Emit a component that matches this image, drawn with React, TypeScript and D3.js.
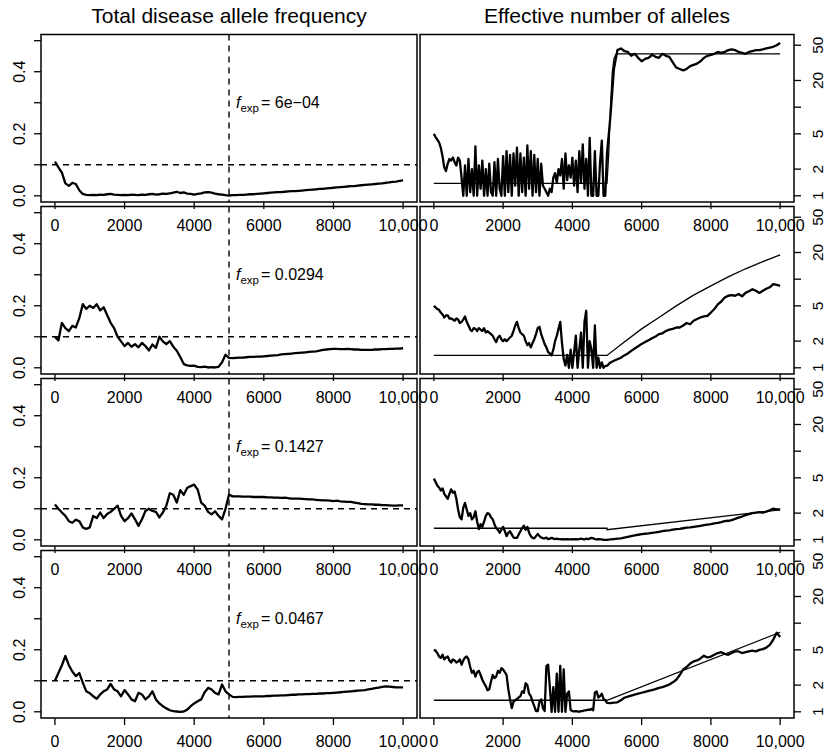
import React from "react";
import * as d3 from "d3";

// ---------- data ----------
const genL = d3.range(0, 10001, 100);
const genR = [...d3.range(0, 5001, 50), ...d3.range(5100, 10001, 100)];

const xTicks = [0, 2000, 4000, 6000, 8000, 10000];
const xTickLabels = ["0", "2000", "4000", "6000", "8000", "10,000"];
const yTicksL = [0, 0.1, 0.2, 0.3, 0.4, 0.5];
const yTickLabelsL = ["0.0", "", "0.2", "", "0.4", ""];
const yTicksR = [1, 2, 5, 10, 20, 50];
const yTickLabelsR = ["1", "2", "5", "", "20", "50"];

const titles = ["Total disease allele frequency", "Effective number of alleles"];
const fexpLabels = ["6e\u221204", "0.0294", "0.1427", "0.0467"];
const baselineFreq = 0.1;
const switchGen = 5000;

// total disease allele frequency, every 100 generations
const L1 = [
  0.110, 0.092, 0.075, 0.040, 0.032, 0.042, 0.038, 0.018, 0.006, 0.003,
  0.002, 0.003, 0.002, 0.004, 0.003, 0.005, 0.006, 0.004, 0.003, 0.002,
  0.003, 0.002, 0.004, 0.003, 0.002, 0.004, 0.003, 0.005, 0.006, 0.004,
  0.005, 0.007, 0.006, 0.008, 0.010, 0.013, 0.009, 0.011, 0.007, 0.006,
  0.004, 0.006, 0.008, 0.011, 0.012, 0.010, 0.007, 0.005, 0.004, 0.002,
  0.001, 0.002, 0.002, 0.003, 0.003, 0.004, 0.005, 0.005, 0.006, 0.007,
  0.008, 0.009, 0.010, 0.011, 0.012, 0.012, 0.013, 0.014, 0.015, 0.015,
  0.016, 0.017, 0.018, 0.019, 0.020, 0.021, 0.022, 0.022, 0.024, 0.025,
  0.026, 0.027, 0.028, 0.029, 0.030, 0.031, 0.031, 0.033, 0.034, 0.035,
  0.036, 0.037, 0.038, 0.039, 0.040, 0.042, 0.043, 0.045, 0.046, 0.048,
  0.050,
];
const L2 = [
  0.100, 0.088, 0.145, 0.128, 0.118, 0.135, 0.130, 0.160, 0.205, 0.190,
  0.200, 0.193, 0.205, 0.185, 0.195, 0.170, 0.145, 0.128, 0.100, 0.085,
  0.070, 0.080, 0.068, 0.076, 0.066, 0.080, 0.070, 0.056, 0.075, 0.064,
  0.100, 0.085, 0.076, 0.086, 0.068, 0.055, 0.035, 0.012, 0.008, 0.006,
  0.007, 0.003, 0.002, 0.004, 0.001, 0.002, 0.001, 0.003, 0.018, 0.042,
  0.032, 0.031, 0.032, 0.033, 0.033, 0.034, 0.035, 0.035, 0.036, 0.036,
  0.037, 0.038, 0.039, 0.040, 0.041, 0.043, 0.044, 0.045, 0.046, 0.047,
  0.048, 0.049, 0.050, 0.051, 0.052, 0.053, 0.055, 0.058, 0.059, 0.060,
  0.061, 0.061, 0.060, 0.060, 0.061, 0.060, 0.059, 0.059, 0.058, 0.058,
  0.058, 0.058, 0.059, 0.059, 0.060, 0.060, 0.061, 0.061, 0.062, 0.062,
  0.063,
];
const L3 = [
  0.114, 0.100, 0.088, 0.077, 0.060, 0.055, 0.065, 0.060, 0.040, 0.035,
  0.040, 0.077, 0.070, 0.088, 0.070, 0.083, 0.090, 0.100, 0.110, 0.077,
  0.060, 0.070, 0.085, 0.066, 0.045, 0.066, 0.093, 0.100, 0.093, 0.090,
  0.072, 0.088, 0.110, 0.150, 0.145, 0.120, 0.160, 0.145, 0.168, 0.173,
  0.178, 0.162, 0.120, 0.110, 0.090, 0.082, 0.092, 0.077, 0.066, 0.100,
  0.146, 0.140, 0.140, 0.140, 0.139, 0.139, 0.139, 0.138, 0.138, 0.138,
  0.138, 0.137, 0.137, 0.136, 0.136, 0.135, 0.136, 0.134, 0.133, 0.133,
  0.133, 0.132, 0.131, 0.130, 0.130, 0.129, 0.128, 0.127, 0.127, 0.126,
  0.125, 0.126, 0.124, 0.123, 0.122, 0.122, 0.120, 0.118, 0.116, 0.115,
  0.114, 0.114, 0.113, 0.113, 0.112, 0.112, 0.111, 0.110, 0.110, 0.111,
  0.111,
];
const L4 = [
  0.100, 0.125, 0.150, 0.180, 0.150, 0.130, 0.115, 0.125, 0.094, 0.066,
  0.060, 0.050, 0.042, 0.056, 0.066, 0.072, 0.090, 0.072, 0.066, 0.050,
  0.070, 0.056, 0.040, 0.034, 0.061, 0.056, 0.040, 0.050, 0.066, 0.040,
  0.027, 0.018, 0.011, 0.005, 0.002, 0.001, 0.000, 0.001, 0.007, 0.018,
  0.027, 0.034, 0.040, 0.063, 0.077, 0.072, 0.061, 0.056, 0.088, 0.066,
  0.056, 0.048, 0.047, 0.048, 0.048, 0.049, 0.049, 0.050, 0.050, 0.050,
  0.050, 0.051, 0.051, 0.052, 0.052, 0.053, 0.053, 0.054, 0.055, 0.055,
  0.056, 0.056, 0.057, 0.057, 0.058, 0.058, 0.059, 0.059, 0.060, 0.060,
  0.061, 0.062, 0.063, 0.064, 0.065, 0.066, 0.067, 0.068, 0.069, 0.070,
  0.072, 0.074, 0.076, 0.078, 0.080, 0.082, 0.081, 0.080, 0.079, 0.079,
  0.079,
];

// effective number of alleles: every 50 gens up to 5000, then every 100
const R1a = [
  5.0, 4.6, 4.3, 4.0, 3.5, 2.8, 2.1, 1.9, 2.3, 2.6,
  2.5, 2.7, 2.4, 2.2, 2.7, 2.5, 1.6, 1.0, 2.2, 1.0,
  2.6, 1.1, 2.0, 1.0, 3.6, 1.0, 2.2, 1.2, 2.5, 1.0,
  2.0, 1.0, 2.3, 1.1, 1.0, 2.4, 1.0, 2.6, 1.2, 1.0,
  2.8, 1.0, 3.2, 1.1, 2.9, 1.0, 3.0, 1.3, 3.5, 1.0,
  3.0, 1.1, 2.7, 1.0, 3.7, 1.2, 3.2, 1.0, 2.9, 1.1,
  2.6, 1.0, 2.3, 1.3, 1.2, 1.1, 1.0, 1.2, 1.1, 1.6,
  1.8, 1.4, 2.0, 1.7, 2.6, 1.2, 3.0, 1.5, 2.2, 1.6,
  2.7, 1.3, 2.5, 1.1, 3.2, 1.4, 3.8, 1.2, 2.6, 1.0,
  4.5, 1.0, 1.0, 3.2, 1.0, 1.0, 2.4, 4.2, 1.0, 1.0,
  3.0,
];
const R1b = [
  8, 27, 44, 46, 43, 42, 38, 40, 36, 33,
  35, 36, 39, 37, 36, 40, 38, 37, 32, 28,
  27, 26, 27, 29, 30, 31, 33, 36, 38, 39,
  40, 42, 41, 42, 44, 45, 44, 42, 41, 40,
  42, 43, 44, 44, 45, 46, 47, 48, 50, 53,
];
const R2a = [
  5.0, 4.8, 4.6, 4.5, 4.2, 4.0, 3.7, 3.9, 3.9, 3.6,
  3.6, 3.5, 3.4, 3.6, 3.5, 3.2, 3.3, 3.5, 3.8, 3.3,
  3.0, 2.7, 2.6, 2.8, 2.75, 2.6, 2.8, 2.7, 2.6, 2.8,
  2.5, 2.6, 2.5, 2.4, 2.3, 2.1, 1.95, 2.2, 2.3, 2.1,
  2.0, 2.1, 2.0, 2.1, 2.2, 2.3, 2.6, 3.0, 3.3, 2.8,
  2.5, 2.4, 2.3, 2.0, 1.8, 1.9, 1.7, 1.9, 2.1, 2.4,
  2.8, 2.9, 2.4, 2.1, 1.85, 1.7, 1.5, 1.45, 1.38, 1.6,
  2.0, 2.3, 2.75, 3.3, 1.9, 1.26, 1.06, 1.4, 1.0, 1.6,
  1.0, 1.5, 2.3, 1.0, 1.6, 2.5, 1.0, 3.3, 4.4, 1.0,
  2.0, 1.6, 1.0, 3.0, 1.0, 1.3, 1.0, 1.15, 1.0, 1.05,
  1.05,
];
const R2b = [
  1.15, 1.2, 1.25, 1.3, 1.38, 1.45, 1.55, 1.65, 1.75, 1.86,
  1.95, 2.05, 2.15, 2.25, 2.4, 2.45, 2.6, 2.7, 2.75, 2.85,
  2.85, 3.0, 3.2, 3.1, 3.4, 3.55, 3.7, 3.8, 3.85, 4.2,
  4.6, 5.2, 5.6, 6.2, 6.5, 6.6, 6.5, 6.8, 6.4, 7.0,
  7.3, 7.7, 7.4, 7.0, 7.4, 7.8, 8.1, 8.8, 8.6, 8.4,
];
const R3a = [
  4.9, 4.5, 4.1, 3.9, 3.6, 3.8, 3.3, 3.1, 2.9, 3.3,
  3.7, 3.4, 3.5, 2.9, 2.2, 1.8, 1.7, 2.3, 2.6, 2.2,
  1.86, 2.0, 1.7, 1.8, 2.1, 1.6, 1.32, 1.5, 1.4, 1.6,
  1.86, 2.0, 1.95, 1.8, 1.7, 1.5, 1.35, 1.3, 1.2, 1.3,
  1.4, 1.25, 1.1, 1.2, 1.25, 1.15, 1.06, 1.05, 1.05, 1.15,
  1.25, 1.35, 1.44, 1.3, 1.4, 1.2, 1.1, 1.05, 1.04, 1.1,
  1.16, 1.1, 1.06, 1.04, 1.04, 1.06, 1.02, 1.03, 1.05, 1.03,
  1.02, 1.03, 1.02, 1.02, 1.01, 1.02, 1.01, 1.02, 1.01, 1.01,
  1.02, 1.01, 1.02, 1.01, 1.02, 1.03, 1.02, 1.01, 1.03, 1.02,
  1.03, 1.05, 1.04, 1.02, 1.01, 1.02, 1.01, 1.01, 1.0, 1.0,
  1.0,
];
const R3b = [
  1.01, 1.02, 1.03, 1.04, 1.06, 1.08, 1.1, 1.12, 1.14, 1.16,
  1.17, 1.18, 1.2, 1.21, 1.23, 1.25, 1.27, 1.28, 1.3, 1.32,
  1.33, 1.35, 1.37, 1.38, 1.4, 1.42, 1.44, 1.46, 1.48, 1.5,
  1.53, 1.55, 1.58, 1.62, 1.64, 1.67, 1.72, 1.78, 1.83, 1.9,
  1.95, 2.0, 2.03, 2.05, 2.02, 2.08, 2.15, 2.25, 2.2, 2.2,
];
const R4a = [
  5.0, 4.9, 4.6, 4.2, 4.06, 4.4, 3.9, 4.1, 4.2, 3.8,
  3.6, 3.9, 3.8, 3.6, 3.7, 3.9, 3.4, 3.8, 4.1, 4.2,
  3.9, 3.2, 2.75, 2.9, 2.5, 2.8, 2.9, 2.6, 2.3, 2.1,
  1.95, 1.75, 1.8, 2.2, 2.6, 2.4, 2.5, 2.9, 2.75, 3.1,
  3.0, 2.8, 2.6, 1.8, 1.38, 1.1, 1.3, 1.35, 1.4, 1.45,
  1.5, 1.7, 1.64, 2.1, 2.0, 1.6, 1.5, 1.3, 1.16, 1.02,
  1.02, 1.3, 1.38, 1.1, 1.02, 3.3, 3.4, 1.9, 1.0, 1.9,
  1.0, 2.7, 1.0, 3.3, 1.0, 3.0, 1.0, 1.6, 1.7, 1.05,
  1.02, 1.01, 1.02, 1.01, 1.0, 1.02, 1.02, 1.04, 1.04, 1.06,
  1.05, 1.08, 1.04, 1.64, 1.7, 1.45, 1.5, 1.6, 1.4, 1.35,
  1.26,
];
const R4b = [
  1.25, 1.27, 1.28, 1.35, 1.44, 1.48, 1.52, 1.56, 1.6, 1.64,
  1.68, 1.72, 1.76, 1.8, 1.86, 1.9, 1.96, 2.03, 2.15, 2.3,
  2.6, 3.0, 3.2, 3.5, 3.7, 3.8, 4.0, 4.3, 4.1, 4.2,
  4.4, 4.6, 4.7, 4.5, 4.4, 4.6, 4.8, 4.8, 4.6, 4.7,
  4.8, 4.9, 4.8, 5.0, 5.1, 5.3, 5.7, 6.5, 7.8, 7.0,
];

// expected effective number of alleles
const E1gen = [0, 5000, 5050, 5100, 5150, 5200, 5250, 5300, 10000];
const E1val = [1.38, 1.38, 3, 10, 24, 35, 39, 40, 40];
const E2gen = [0, 5000, 5500, 6000, 6500, 7000, 7500, 8000, 8500, 9000, 9500, 10000];
const E2val = [1.38, 1.38, 1.95, 2.75, 3.7, 5.0, 6.6, 8.4, 10.6, 13.1, 15.8, 18.8];
const E3gen = [0, 5000, 5000, 10000];
const E3val = [1.35, 1.35, 1.3, 2.18];
const E4gen = [0, 5000, 10000];
const E4val = [1.35, 1.35, 7.9];

const leftSeries = [L1, L2, L3, L4];
const rightSeries = [R1a.concat(R1b), R2a.concat(R2b), R3a.concat(R3b), R4a.concat(R4b)];
const expGens = [E1gen, E2gen, E3gen, E4gen];
const expVals = [E1val, E2val, E3val, E4val];

// ---------- layout ----------
const W = 828;
const H = 753;
const LX0 = 41, LX1 = 417, RX0 = 420, RX1 = 794;
const TOP0 = 34.5, PITCH = 172, PH = 167.5;
const FONT = "'Liberation Sans', Arial, Helvetica, sans-serif";
const TICK = 7;
const DATA_W = 2.3;

function XAxis({ x, bottom }: { x: d3.ScaleLinear<number, number>; bottom: number }) {
  return (
    <g>
      {xTicks.map((t, i) => (
        <g key={i}>
          <line x1={x(t)} x2={x(t)} y1={bottom} y2={bottom + TICK} stroke="#000" strokeWidth={1.3} />
          <text x={x(t)} y={bottom + 29} textAnchor="middle" fontSize={16} fontFamily={FONT}>
            {xTickLabels[i]}
          </text>
        </g>
      ))}
    </g>
  );
}

function LeftPanel({ row }: { row: number }) {
  const top = TOP0 + row * PITCH;
  const bottom = top + PH;
  const x = d3.scaleLinear().domain([-400, 10400]).range([LX0, LX1]);
  const y = d3.scaleLinear().domain([-0.02, 0.52]).range([bottom, top]);
  const line = d3
    .line<number>()
    .x((_, i) => x(genL[i]))
    .y((d) => y(d));
  const labX = x(switchGen) + 7;
  const labY = y(0.3) + 5.5;
  return (
    <g>
      <path d={line(leftSeries[row]) || ""} fill="none" stroke="#000" strokeWidth={DATA_W} strokeLinejoin="round" />
      <line x1={LX0} x2={LX1} y1={y(baselineFreq)} y2={y(baselineFreq)} stroke="#000" strokeWidth={1.4} strokeDasharray="6,5" />
      <line x1={x(switchGen)} x2={x(switchGen)} y1={top} y2={bottom} stroke="#000" strokeWidth={1.4} strokeDasharray="6,5" />
      <text x={labX} y={labY} fontSize={16} fontFamily={FONT}>
        <tspan fontStyle="italic">f</tspan>
        <tspan fontSize={11.5} dy={4}>exp</tspan>
        <tspan dy={-4} dx={2}>{"= " + fexpLabels[row]}</tspan>
      </text>
      <rect x={LX0} y={top} width={LX1 - LX0} height={PH} fill="none" stroke="#000" strokeWidth={1.5} />
      {yTicksL.map((t, i) => (
        <g key={i}>
          <line x1={LX0 - TICK} x2={LX0} y1={y(t)} y2={y(t)} stroke="#000" strokeWidth={1.3} />
          {yTickLabelsL[i] && (
            <text
              transform={`translate(${LX0 - 16.5},${y(t)}) rotate(-90)`}
              textAnchor="middle"
              fontSize={16}
              fontFamily={FONT}
            >
              {yTickLabelsL[i]}
            </text>
          )}
        </g>
      ))}
      <XAxis x={x} bottom={bottom} />
    </g>
  );
}

function RightPanel({ row }: { row: number }) {
  const top = TOP0 + row * PITCH;
  const bottom = top + PH;
  const x = d3.scaleLinear().domain([-400, 10400]).range([RX0, RX1]);
  const y = d3.scaleLog().domain([Math.pow(10, -0.07), Math.pow(10, 1.82)]).range([bottom, top]);
  const line = d3
    .line<number>()
    .x((_, i) => x(genR[i]))
    .y((d) => y(d));
  const eg = expGens[row];
  const eLine = d3
    .line<number>()
    .x((_, i) => x(eg[i]))
    .y((d) => y(d));
  return (
    <g>
      <path d={eLine(expVals[row]) || ""} fill="none" stroke="#000" strokeWidth={1.3} />
      <path d={line(rightSeries[row]) || ""} fill="none" stroke="#000" strokeWidth={DATA_W} strokeLinejoin="round" />
      <rect x={RX0} y={top} width={RX1 - RX0} height={PH} fill="none" stroke="#000" strokeWidth={1.5} />
      {yTicksR.map((t, i) => (
        <g key={i}>
          <line x1={RX1} x2={RX1 + TICK} y1={y(t)} y2={y(t)} stroke="#000" strokeWidth={1.3} />
          {yTickLabelsR[i] && (
            <text
              transform={`translate(${RX1 + 29},${y(t)}) rotate(-90)`}
              textAnchor="middle"
              fontSize={15.5}
              fontFamily={FONT}
            >
              {yTickLabelsR[i]}
            </text>
          )}
        </g>
      ))}
      <XAxis x={x} bottom={bottom} />
    </g>
  );
}

export default function App() {
  const rows = [0, 1, 2, 3];
  return (
    <svg
      width={W}
      height={H}
      viewBox={`0 0 ${W} ${H}`}
      style={{ position: "absolute", left: 0, top: 0, background: "#fff" }}
    >
      <rect x={0} y={0} width={W} height={H} fill="#fff" />
      <text x={(LX0 + LX1) / 2} y={23} textAnchor="middle" fontSize={21} fontFamily={FONT}>
        {titles[0]}
      </text>
      <text x={(RX0 + RX1) / 2} y={23} textAnchor="middle" fontSize={21} fontFamily={FONT}>
        {titles[1]}
      </text>
      {rows.map((r) => (
        <g key={r}>
          <LeftPanel row={r} />
          <RightPanel row={r} />
        </g>
      ))}
    </svg>
  );
}
